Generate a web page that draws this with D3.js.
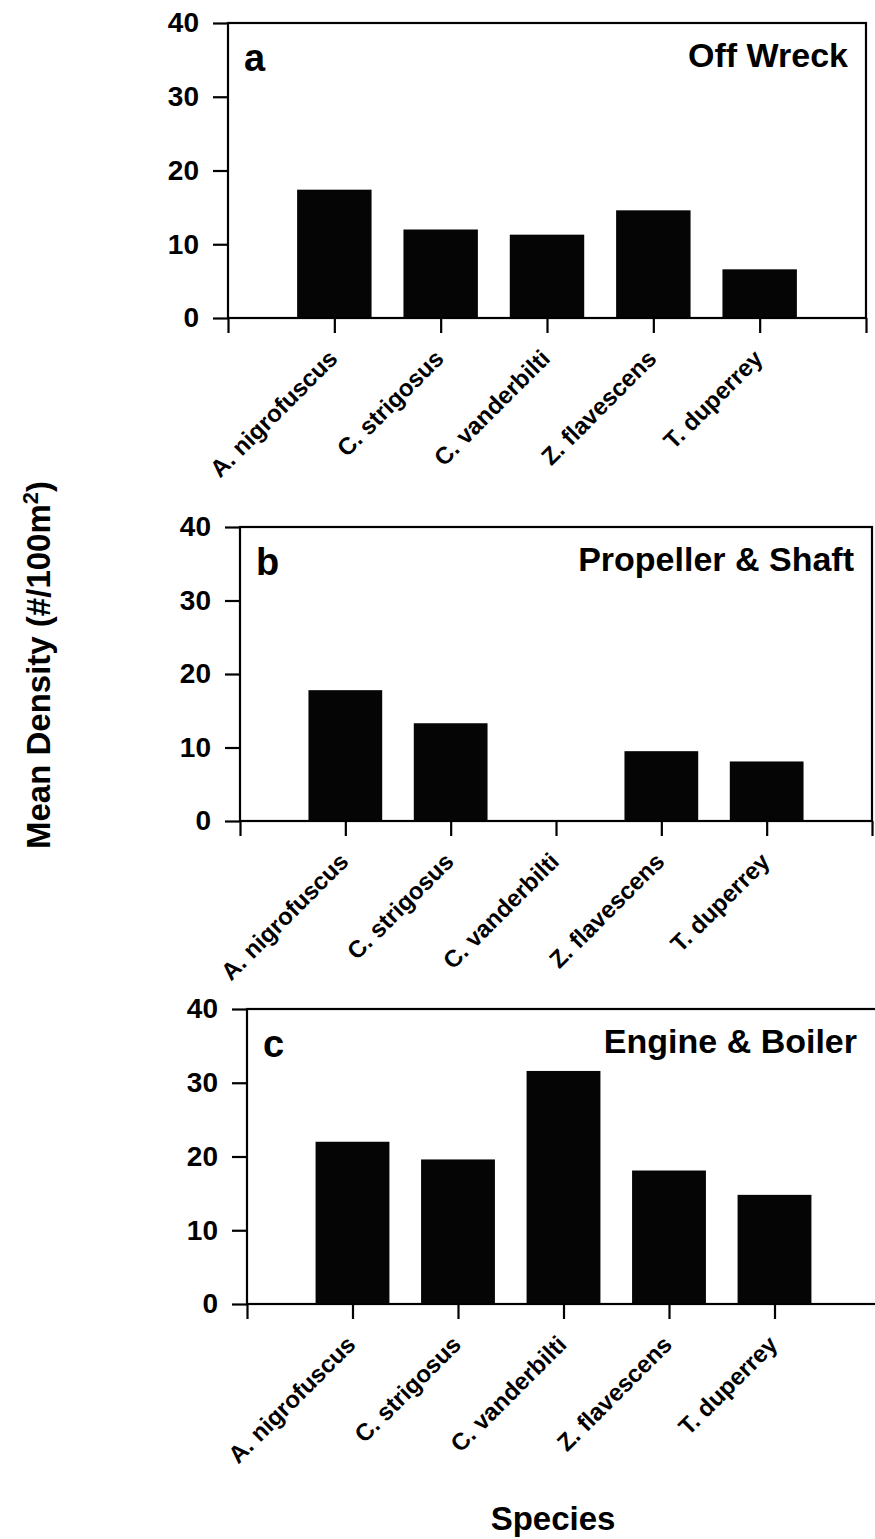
<!DOCTYPE html>
<html>
<head>
<meta charset="utf-8">
<script src="https://cdn.jsdelivr.net/npm/d3@7"></script>
<style>
  body { margin: 0; background: #fff; }
  svg { display: block; font-family: "Liberation Sans", Arial, sans-serif; font-weight: bold; }
</style>
</head>
<body>
<div id="chart"></div>
<script>
const species = ["A. nigrofuscus", "C. strigosus", "C. vanderbilti", "Z. flavescens", "T. duperrey"];
const offWreck = [17.4, 12.0, 11.3, 14.6, 6.6];
const propellerShaft = [17.8, 13.3, 0, 9.5, 8.1];
const engineBoiler = [22.0, 19.6, 31.6, 18.1, 14.8];
const panelLetters = ["a", "b", "c"];
const panelTitles = ["Off Wreck", "Propeller & Shaft", "Engine & Boiler"];
const yTicks = [0, 10, 20, 30, 40];

const W = 875, H = 1539;
const svg = d3.select("#chart").append("svg")
  .attr("width", W)
  .attr("height", H);

// panel frames (pixel boxes of each plot area)
const panels = [
  { values: offWreck, left: 228, right: 866, top: 23, bottom: 318 },
  { values: propellerShaft, left: 240, right: 872, top: 527, bottom: 821 },
  { values: engineBoiler, left: 247, right: 880, top: 1009, bottom: 1304 }
];

panels.forEach((p, i) => {
  const g = svg.append("g");

  const x = d3.scaleLinear().domain([0, species.length + 1]).range([p.left, p.right]);
  const y = d3.scaleLinear().domain([0, 40]).range([p.bottom, p.top]);
  const barW = (x(1) - x(0)) * 0.7;

  // bars
  g.selectAll(".bar")
    .data(p.values)
    .enter()
    .append("rect")
    .attr("class", "bar")
    .attr("x", (d, j) => x(j + 1) - barW / 2)
    .attr("y", d => y(d))
    .attr("width", barW)
    .attr("height", d => y(0) - y(d))
    .attr("fill", "#050505");

  // frame
  g.append("rect")
    .attr("x", p.left)
    .attr("y", p.top)
    .attr("width", p.right - p.left)
    .attr("height", p.bottom - p.top)
    .attr("fill", "none")
    .attr("stroke", "#000")
    .attr("stroke-width", 2.2);

  // y axis
  const yAxis = g.append("g")
    .attr("transform", "translate(" + p.left + ",0)")
    .call(d3.axisLeft(y).tickValues(yTicks).tickSize(15).tickPadding(14));
  yAxis.select(".domain").remove();
  yAxis.selectAll("line").attr("stroke-width", 2.2);
  yAxis.selectAll("text")
    .attr("font-size", 28)
    .attr("font-weight", "bold")
    .attr("font-family", "Liberation Sans, Arial, sans-serif")
    .attr("fill", "#000");

  // x axis
  const xAxis = g.append("g")
    .attr("transform", "translate(0," + p.bottom + ")")
    .call(d3.axisBottom(x)
      .tickValues(d3.range(0, species.length + 2))
      .tickSize(15)
      .tickFormat(d => species[d - 1] || ""));
  xAxis.select(".domain").remove();
  xAxis.selectAll("line").attr("stroke-width", 2.2);
  xAxis.selectAll("text")
    .attr("font-size", 24)
    .attr("font-weight", "bold")
    .attr("font-family", "Liberation Sans, Arial, sans-serif")
    .attr("fill", "#000")
    .attr("text-anchor", "end")
    .attr("y", 0)
    .attr("dy", 0)
    .attr("transform", "translate(4,42) rotate(-45)");

  // panel letter and title
  g.append("text")
    .attr("x", p.left + 16)
    .attr("y", p.top + 48)
    .attr("font-size", 38)
    .text(panelLetters[i]);

  g.append("text")
    .attr("x", Math.min(p.right, W) - 18)
    .attr("y", p.top + 44)
    .attr("text-anchor", "end")
    .attr("font-size", 34)
    .text(panelTitles[i]);
});

// axis titles
const yTitle = svg.append("text")
  .attr("text-anchor", "middle")
  .attr("transform", "translate(50,665) rotate(-90)")
  .attr("font-size", 33);
yTitle.append("tspan").text("Mean Density (#/100m");
yTitle.append("tspan").attr("baseline-shift", "super").attr("font-size", 22).text("2");
yTitle.append("tspan").text(")");

svg.append("text")
  .attr("text-anchor", "middle")
  .attr("x", 553)
  .attr("y", 1530)
  .attr("font-size", 33)
  .text("Species");
</script>
</body>
</html>
